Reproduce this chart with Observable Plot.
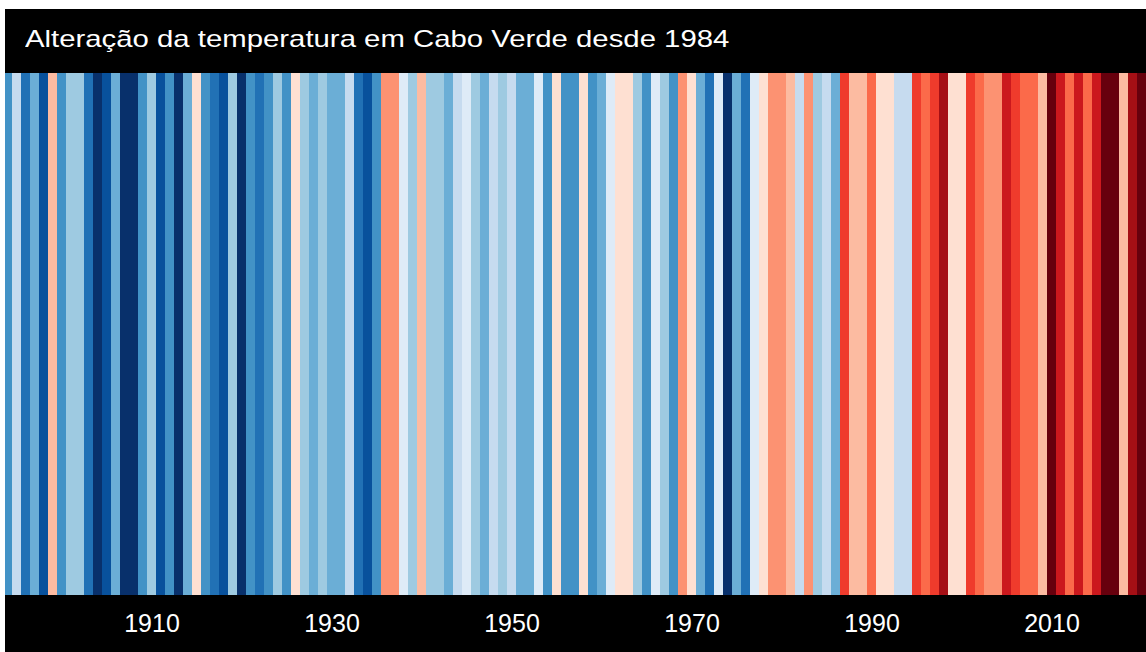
<!DOCTYPE html>
<html>
<head>
<meta charset="utf-8">
<script src="https://cdn.jsdelivr.net/npm/d3@7"></script>
<script src="https://cdn.jsdelivr.net/npm/@observablehq/plot@0.6"></script>
<style>
  html, body { margin: 0; padding: 0; background: #ffffff; overflow: hidden; }
  #frame { position: absolute; left: 5px; top: 9px; width: 1141px; height: 643px; background: #000; }
  #title { position: absolute; left: 20px; top: 18px; color: #fff; font-family: "Liberation Sans", Arial, Helvetica, sans-serif;
           font-size: 24px; line-height: 24px; white-space: nowrap; transform: scaleX(1.222); transform-origin: 0 0; }
  #chart { position: absolute; left: 0; top: 64px; }
</style>
</head>
<body>
<div id="frame">
  <div id="title"></div>
  <div id="chart"></div>
</div>
<script>
const titleText = "Alteração da temperatura em Cabo Verde desde 1984";
const firstYear = 1894;
const lastYear = 2020;
const years = d3.range(firstYear, lastYear + 1);
// estimated temperature anomalies (°C) per year, read from the stripe colours
const anomalies = [
  -0.45, -0.15, -0.55, -0.35, -0.65, 0.15, -0.45, -0.25, -0.25, -0.55, // 1894-1903
  -0.75, -0.65, -0.35, -0.75, -0.75, -0.45, -0.25, -0.65, -0.45, -0.75, // 1904-1913
  -0.35, 0.05, -0.45, -0.55, -0.65, -0.25, -0.75, -0.45, -0.55, -0.45, // 1914-1923
  -0.25, -0.45, 0.05, -0.25, -0.35, -0.25, -0.35, -0.35, -0.15, -0.55, // 1924-1933
  -0.65, -0.45, 0.25, 0.25, -0.05, -0.25, 0.15, -0.25, -0.25, -0.35,   // 1934-1943
  -0.15, -0.05, -0.25, -0.35, -0.15, -0.25, -0.15, -0.35, -0.35, -0.05, // 1944-1953
  -0.45, 0.05, -0.45, -0.45, 0.05, -0.45, -0.35, -0.05, 0.05, 0.05,    // 1954-1963
  -0.25, -0.45, -0.05, -0.25, -0.45, 0.25, 0.05, -0.35, -0.55, -0.05,  // 1964-1973
  -0.75, -0.35, -0.55, -0.05, 0.05, 0.25, 0.25, 0.15, -0.15, 0.25,     // 1974-1983
  -0.25, -0.15, -0.35, 0.45, 0.15, 0.15, 0.35, 0.05, 0.05, -0.15,      // 1984-1993
  -0.15, 0.45, 0.35, 0.45, 0.65, 0.05, 0.05, 0.45, 0.35, 0.25,         // 1994-2003
  0.25, 0.55, 0.45, 0.35, 0.35, 0.15, 0.75, 0.55, 0.35, 0.55,          // 2004-2013
  0.35, 0.55, 0.75, 0.75, 0.15, 0.65, 0.75                             // 2014-2020
];
const tickYears = [1910, 1930, 1950, 1970, 1990, 2010];
const thresholds = [-0.7, -0.6, -0.5, -0.4, -0.3, -0.2, -0.1, 0, 0.1, 0.2, 0.3, 0.4, 0.5, 0.6, 0.7];
const stripeColors = ["#08306b", "#08519c", "#2171b5", "#4292c6", "#6baed6", "#9ecae1", "#c6dbef", "#deebf7",
                      "#fee0d2", "#fcbba1", "#fc9272", "#fb6a4a", "#ef3b2c", "#cb181d", "#a50f15", "#67000d"];

const data = years.map((year, i) => ({year, anomaly: anomalies[i]}));

document.getElementById("title").textContent = titleText;

const chart = Plot.plot({
  width: 1141,
  height: 579,
  marginTop: 0,
  marginBottom: 57,
  marginLeft: 0,
  marginRight: 0,
  style: {
    background: "#000",
    color: "#fff",
    fontFamily: "\"Liberation Sans\", Arial, Helvetica, sans-serif",
    fontSize: "25px",
    overflow: "hidden"
  },
  x: {type: "band", domain: years, range: [-2.3, 1141], padding: 0, label: null},
  y: {axis: null},
  color: {type: "threshold", domain: thresholds, range: stripeColors},
  marks: [
    Plot.cell(data, {x: "year", fill: "anomaly"}),
    Plot.axisX({ticks: tickYears, tickSize: 0, tickPadding: 19, tickFormat: d => String(d), label: null, fontSize: 25})
  ]
});
document.getElementById("chart").appendChild(chart);
</script>
</body>
</html>
